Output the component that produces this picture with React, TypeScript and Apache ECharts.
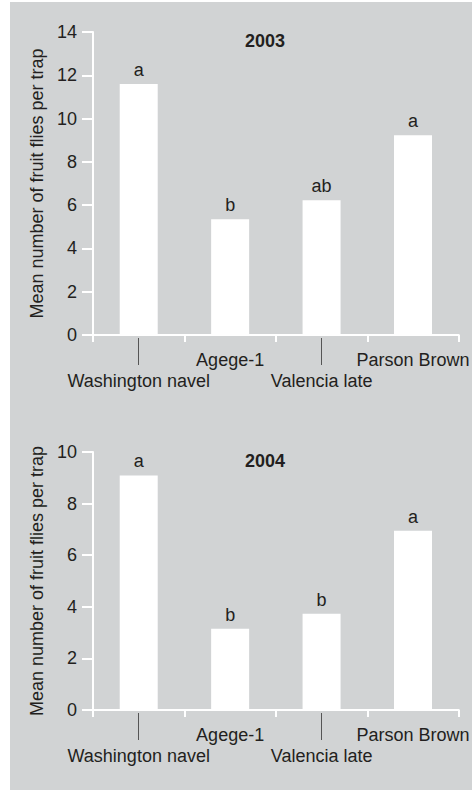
import React, { useEffect, useRef } from "react";
import * as echarts from "echarts";

const categories = ["Washington navel", "Agege-1", "Valencia late", "Parson Brown"];
const values2003 = [11.6, 5.35, 6.23, 9.23];
const letters2003 = ["a", "b", "ab", "a"];
const values2004 = [9.09, 3.15, 3.73, 6.95];
const letters2004 = ["a", "b", "b", "a"];
const yTicks2003 = { min: 0, max: 14, interval: 2 };
const yTicks2004 = { min: 0, max: 10, interval: 2 };
const titles = ["2003", "2004"];
const yName = "Mean number of fruit flies per trap";

const TEXT = "#231f20";
const FONT = "Liberation Sans, Arial, sans-serif";

export default function App() {
  const ref = useRef<HTMLDivElement>(null);
  useEffect(() => {
    if (!ref.current) return;
    const chart = echarts.init(ref.current, null, { renderer: "svg" });
    const grids = [
      { left: 93, right: 9, top: 32, height: 303 },
      { left: 93, right: 9, top: 452, height: 258 },
    ];
    const xMain = (gi: number) => ({
      type: "category",
      gridIndex: gi,
      data: categories,
      boundaryGap: true,
      axisLine: { show: true, lineStyle: { color: "#ffffff", width: 2 } },
      axisTick: { show: true, length: 7, lineStyle: { color: "#ffffff", width: 2 } },
      axisLabel: {
        show: true,
        interval: 0,
        margin: 14,
        color: TEXT,
        fontFamily: FONT,
        fontSize: 18,
        lineHeight: 21,
        formatter: (v: string, i: number) => (i % 2 === 0 ? "\n" + v : v),
      },
    });
    const xLeader = (gi: number) => ({
      type: "category",
      gridIndex: gi,
      data: categories,
      position: "bottom",
      offset: 3,
      axisLine: { show: false },
      axisLabel: { show: false },
      axisTick: {
        show: true,
        alignWithLabel: true,
        length: 27,
        interval: (i: number) => i % 2 === 0,
        lineStyle: { color: "#555555", width: 1 },
      },
    });
    const yAx = (gi: number, t: { min: number; max: number; interval: number }) => ({
      type: "value",
      gridIndex: gi,
      min: t.min,
      max: t.max,
      interval: t.interval,
      name: yName,
      nameLocation: "middle",
      nameGap: 44,
      nameRotate: 90,
      nameTextStyle: { color: TEXT, fontFamily: FONT, fontSize: 18 },
      splitLine: { show: false },
      axisLine: { show: true, lineStyle: { color: "#ffffff", width: 2 } },
      axisTick: { show: true, length: 11, lineStyle: { color: "#ffffff", width: 2 } },
      axisLabel: { color: TEXT, fontFamily: FONT, fontSize: 18, margin: 16 },
    });
    const barSeries = (gi: number, vals: number[], letters: string[]) => ({
      type: "bar",
      xAxisIndex: gi * 2,
      yAxisIndex: gi,
      data: vals,
      barWidth: 38,
      itemStyle: { color: "#ffffff" },
      label: {
        show: true,
        position: "top",
        distance: 5,
        color: TEXT,
        fontFamily: FONT,
        fontSize: 18,
        formatter: (p: any) => letters[p.dataIndex],
      },
    });
    chart.setOption({
      animation: false,
      backgroundColor: "#ffffff",
      graphic: [
        {
          type: "rect",
          z: -10,
          shape: { x: 10, y: 2, width: 470, height: 788 },
          style: { fill: "#d1d3d4" },
          silent: true,
        },
      ],
      title: [
        {
          text: titles[0],
          left: 260,
          top: 27,
          textAlign: "center",
          textStyle: { color: TEXT, fontFamily: FONT, fontSize: 18, fontWeight: "bold" },
        },
        {
          text: titles[1],
          left: 260,
          top: 447,
          textAlign: "center",
          textStyle: { color: TEXT, fontFamily: FONT, fontSize: 18, fontWeight: "bold" },
        },
      ],
      grid: grids,
      xAxis: [xMain(0), xLeader(0), xMain(1), xLeader(1)],
      yAxis: [yAx(0, yTicks2003), yAx(1, yTicks2004)],
      series: [barSeries(0, values2003, letters2003), barSeries(1, values2004, letters2004)],
    });
    return () => chart.dispose();
  }, []);
  return (
    <div
      ref={ref}
      style={{ position: "absolute", left: 0, top: 0, width: 472, height: 791 }}
    />
  );
}
